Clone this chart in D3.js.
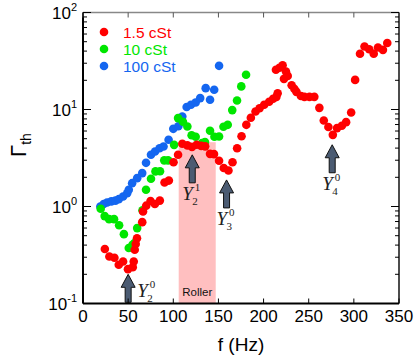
<!DOCTYPE html>
<html>
<head>
<meta charset="utf-8">
<script src="https://cdn.jsdelivr.net/npm/d3@7"></script>
<style>
  body { margin: 0; background: #fff; }
  svg { display: block; font-family: "Liberation Sans", Arial, sans-serif; }
</style>
</head>
<body>
<svg id="chart" width="415" height="358"></svg>
<script>
// 1.5 cSt
const redF = [24.2, 29.2, 34.8, 39.6, 44.4, 49.8, 55.1, 56.2, 57.3, 58.4, 59.8, 65.6, 66.5, 70, 74.8, 79.6, 85.1, 90.3, 95.1,
  100.3, 105.3, 110, 115.6, 120.7, 125.9, 130.9, 135.3, 140.7, 145.1, 150.7, 155.9, 161.1, 165.6, 170.7, 175.6, 180.9,
  185.9, 191.1, 195.6, 200.7, 206.2, 210.6, 214.2, 215.6, 213.7, 217.6, 221.1, 224.8, 226.7, 222.6, 231.1, 234.2, 236.4,
  241.4, 245.3, 250.9, 256.2, 261.8, 266.7, 271.8, 276.7, 281.4, 286.7, 291.4, 297, 301.4, 306.8, 311.8, 317, 322, 326.7,
  332.2, 337];
const redG = [0.364, 0.305, 0.296, 0.251, 0.271, 0.226, 0.237, 0.271, 0.358, 0.41, 0.47, 0.69, 0.888, 1.02, 1.14, 1.06, 1.15, 1.77, 1.85,
  2.86, 3.41, 4.43, 4.27, 4.10, 4.33, 4.22, 4.17, 3.49, 3.47, 2.96, 2.49, 2.35, 2.86, 3.98, 5.29, 6.95,
  8.21, 9.53, 10.3, 11.2, 12.0, 12.9, 13.5, 14.7, 25.7, 26.9, 28.6, 24.6, 22.2, 20.7, 17.8, 16.3, 15.2,
  13.8, 13.5, 13.5, 13.5, 10.4, 7.7, 6.59, 5.48, 6.43, 6.79, 7.41, 9.31, 20.2, 37.5, 44.6, 41.8, 37.5, 43.6,
  41.2, 48.4];

// 10 cSt
const greenF = [19.6, 24, 28.9, 34.4, 40, 45.3, 50.7, 54.8, 57, 60, 65.9, 69.8, 75.3, 80.3, 85.3, 90, 94.2, 100.9, 105.3,
  110.7, 115.6, 120.3, 124.8, 131.8, 135.1, 140.7, 145.6, 150.7, 155.6, 160.3, 165.3, 170.6, 175.3, 180.6];
const greenG = [0.947, 0.796, 0.741, 0.741, 0.64, 0.519, 0.373, 0.403, 0.42, 0.599, 0.914, 1.49, 1.93, 2.30, 2.31, 2.99, 2.99, 4.32, 8.15,
  7.47, 6.68, 5.42, 5.23, 4.51, 4.61, 6.03, 5.23, 5.27, 6.63, 6.95, 9.86, 12.4, 17.3, 22.8];

// 100 cSt
const blueF = [19.2, 22.9, 26.7, 31.4, 35.9, 39.6, 44.4, 48.9, 50.7, 54.4, 60, 65.6, 69.8, 75.3, 79.8, 84.8, 89.2, 94.8,
  100, 105.6, 110, 114.8, 119.6, 124.8, 129.8, 135.9, 140.7, 145.3, 150.7];
const blueG = [1.0, 1.06, 1.10, 1.13, 1.15, 1.19, 1.27, 1.37, 1.49, 1.74, 1.96, 2.21, 2.82, 3.41, 3.69, 3.98, 4.15, 4.87,
  6.32, 6.71, 8.47, 10.6, 11.2, 11.8, 13.1, 16.6, 12.6, 16.0, 28.2];

const seriesNames = ['1.5 cSt', '10 cSt', '100 cSt'];
const seriesColors = ['#ff0000', '#00e600', '#1466f0'];

const xTicks = [0, 50, 100, 150, 200, 250, 300, 350];
const yExponents = [-1, 0, 1, 2];

// roller band (Hz) and its top
const rollerBand = [106, 147];
const rollerTop = 4.6;

// arrows: frequency, Γ at tip, mode label (sub, sup), label side
const arrowF = [50, 121, 159, 276];
const arrowTip = [0.2, 3.41, 1.88, 4.33];
const arrowSub = ['2', '2', '3', '4'];
const arrowSup = ['0', '1', '0', '0'];
const arrowSide = ['right', 'below', 'below', 'below'];

const svg = d3.select('#chart');
const x = d3.scaleLinear().domain([0, 350]).range([83, 399]);
const y = d3.scaleLog().domain([0.1, 100]).range([303.5, 12.5]);

// roller band
svg.append('rect')
  .attr('x', x(rollerBand[0]))
  .attr('y', y(rollerTop))
  .attr('width', x(rollerBand[1]) - x(rollerBand[0]))
  .attr('height', y(0.1) - y(rollerTop))
  .attr('fill', '#ffbfc0');

svg.append('text')
  .attr('x', (x(rollerBand[0]) + x(rollerBand[1])) / 2)
  .attr('y', 295.5)
  .attr('text-anchor', 'middle')
  .attr('font-size', 11.5)
  .attr('fill', '#111')
  .text('Roller');

// data points
const allSeries = [
  d3.zip(blueF, blueG).map(d => ({ f: d[0], g: d[1], s: 2 })),
  d3.zip(greenF, greenG).map(d => ({ f: d[0], g: d[1], s: 1 })),
  d3.zip(redF, redG).map(d => ({ f: d[0], g: d[1], s: 0 }))
];
allSeries.forEach(pts => {
  svg.append('g')
    .selectAll('circle')
    .data(pts)
    .enter()
    .append('circle')
    .attr('cx', d => x(d.f))
    .attr('cy', d => y(d.g))
    .attr('r', 4.3)
    .attr('fill', d => seriesColors[d.s]);
});

// arrows
const arrowLen = 28, headH = 13, headW = 14, shaftW = 6;
const serif = '"Liberation Serif", "Times New Roman", serif';
arrowF.forEach((f, i) => {
  const cx = x(f), ty = y(arrowTip[i]);
  const pts = [
    [cx, ty], [cx + headW / 2, ty + headH], [cx + shaftW / 2, ty + headH],
    [cx + shaftW / 2, ty + arrowLen], [cx - shaftW / 2, ty + arrowLen],
    [cx - shaftW / 2, ty + headH], [cx - headW / 2, ty + headH]
  ];
  svg.append('polygon')
    .attr('points', pts.map(p => p.join(',')).join(' '))
    .attr('fill', '#4b5b72')
    .attr('stroke', '#111')
    .attr('stroke-width', 1);

  // label Y with sub and sup stacked
  let lx, ly;
  if (arrowSide[i] === 'right') { lx = cx + 9; ly = ty + 23; }
  else { lx = cx - 10; ly = ty + arrowLen + 17; }
  svg.append('text')
    .attr('x', lx).attr('y', ly)
    .attr('font-family', serif).attr('font-style', 'italic')
    .attr('font-size', 19).attr('fill', '#222')
    .text('Y');
  svg.append('text')
    .attr('x', lx + 10).attr('y', ly + 5)
    .attr('font-family', serif)
    .attr('font-size', 11).attr('fill', '#222')
    .text(arrowSub[i]);
  svg.append('text')
    .attr('x', lx + 12.5).attr('y', ly - 9)
    .attr('font-family', serif)
    .attr('font-size', 11).attr('fill', '#222')
    .text(arrowSup[i]);
});

// frame
const x0 = x(0), x1 = x(350), y0 = y(0.1), y1 = y(100);
svg.append('line').attr('x1', x0).attr('x2', x1).attr('y1', y1).attr('y2', y1)
  .attr('stroke', '#888').attr('stroke-width', 1.5);
svg.append('line').attr('x1', x1).attr('x2', x1).attr('y1', y1).attr('y2', y0)
  .attr('stroke', '#111').attr('stroke-width', 1.5);
svg.append('line').attr('x1', x0).attr('x2', x1).attr('y1', y0).attr('y2', y0)
  .attr('stroke', '#000').attr('stroke-width', 2);
svg.append('line').attr('x1', x0).attr('x2', x0).attr('y1', y1).attr('y2', y0)
  .attr('stroke', '#000').attr('stroke-width', 2);

// x ticks (bottom and top, inward)
xTicks.forEach(v => {
  svg.append('line').attr('x1', x(v)).attr('x2', x(v)).attr('y1', y0).attr('y2', y0 - 5)
    .attr('stroke', '#000').attr('stroke-width', 1);
  svg.append('line').attr('x1', x(v)).attr('x2', x(v)).attr('y1', y1).attr('y2', y1 + 5)
    .attr('stroke', '#555').attr('stroke-width', 1);
  svg.append('text')
    .attr('x', x(v))
    .attr('y', 322)
    .attr('text-anchor', 'middle')
    .attr('font-size', 17)
    .attr('fill', '#000')
    .text(v);
});

// y ticks: major and minor on left and right
const minors = [];
yExponents.slice(0, -1).forEach(e => {
  for (let k = 2; k <= 9; k++) minors.push(k * Math.pow(10, e));
});
minors.forEach(v => {
  svg.append('line').attr('x1', x0).attr('x2', x0 + 4).attr('y1', y(v)).attr('y2', y(v))
    .attr('stroke', '#000').attr('stroke-width', 1);
  svg.append('line').attr('x1', x1).attr('x2', x1 - 4).attr('y1', y(v)).attr('y2', y(v))
    .attr('stroke', '#000').attr('stroke-width', 1);
});
yExponents.forEach(e => {
  const v = Math.pow(10, e);
  svg.append('line').attr('x1', x0).attr('x2', x0 + 8).attr('y1', y(v)).attr('y2', y(v))
    .attr('stroke', '#000').attr('stroke-width', 1);
  svg.append('line').attr('x1', x1).attr('x2', x1 - 8).attr('y1', y(v)).attr('y2', y(v))
    .attr('stroke', '#000').attr('stroke-width', 1);
  const t = svg.append('text')
    .attr('x', 77)
    .attr('y', y(v) + 6)
    .attr('text-anchor', 'end')
    .attr('font-size', 17)
    .attr('fill', '#000');
  t.append('tspan').text('10');
  t.append('tspan').attr('font-size', 11).attr('dy', -8).text(e);
});

// axis titles
svg.append('text')
  .attr('x', 241)
  .attr('y', 351)
  .attr('text-anchor', 'middle')
  .attr('font-size', 19)
  .text('f (Hz)');

const yt = svg.append('text')
  .attr('transform', 'translate(26,145) rotate(-90)')
  .attr('text-anchor', 'middle')
  .attr('font-size', 22);
yt.append('tspan').text('Γ');
yt.append('tspan').attr('font-size', 14).attr('dy', 5).text('th');

// legend
seriesNames.forEach((name, i) => {
  const ly = 32 + i * 17;
  svg.append('circle').attr('cx', 104).attr('cy', ly).attr('r', 4.3).attr('fill', seriesColors[i]);
  svg.append('text')
    .attr('x', 123)
    .attr('y', ly + 5.5)
    .attr('font-size', 15.5)
    .attr('fill', seriesColors[i])
    .text(name);
});
</script>
</body>
</html>
